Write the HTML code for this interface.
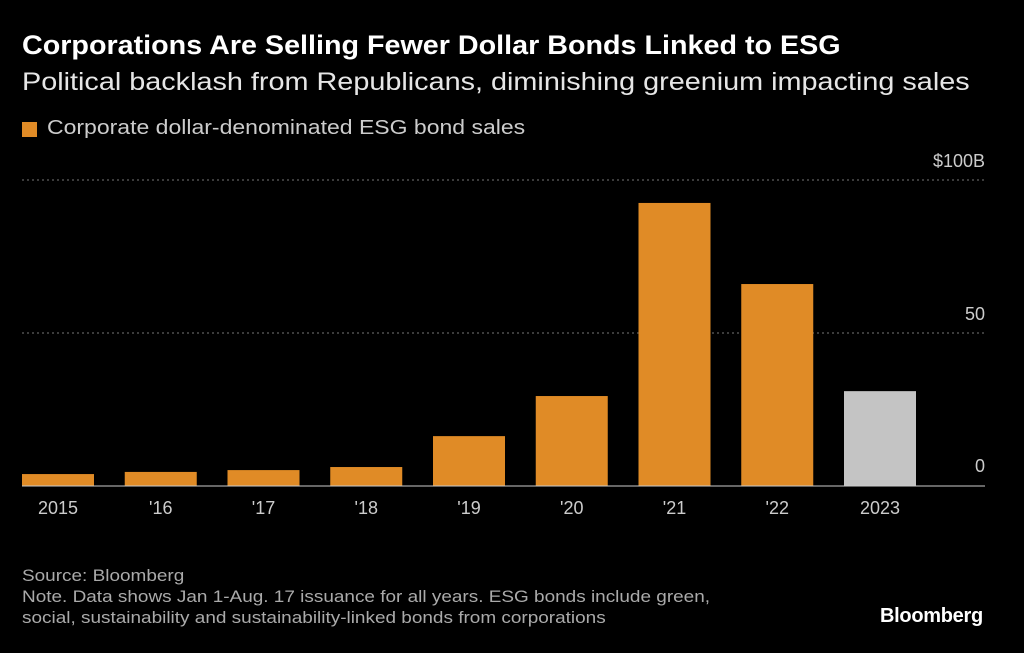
<!DOCTYPE html>
<html><head><meta charset="utf-8">
<style>
body{margin:0;background:#000;width:1024px;height:653px;overflow:hidden;font-family:"Liberation Sans",sans-serif;color:#fff;}
.t{position:absolute;white-space:nowrap;transform-origin:0 0;}
</style></head>
<body>
<div class="t" style="left:22px;top:30px;font-size:27px;font-weight:bold;transform:scaleX(1.063);">Corporations Are Selling Fewer Dollar Bonds Linked to ESG</div>
<div class="t" style="left:22px;top:68px;font-size:25px;color:#e6e6e6;transform:scaleX(1.152);">Political backlash from Republicans, diminishing greenium impacting sales</div>
<div style="position:absolute;left:22px;top:122px;width:15px;height:15px;background:#e08b26;"></div>
<div class="t" style="left:47px;top:117px;font-size:20px;color:#ccc;transform:scaleX(1.15);">Corporate dollar-denominated ESG bond sales</div>
<svg id="c" width="1024" height="653" style="position:absolute;left:0;top:0"></svg>
<div class="t" style="left:22px;top:565px;font-size:17px;line-height:21px;color:#aaa;transform:scaleX(1.115);">Source: Bloomberg<br>Note. Data shows Jan 1-Aug. 17 issuance for all years. ESG bonds include green,<br>social, sustainability and sustainability-linked bonds from corporations</div>
<div class="t" style="left:880px;top:605px;font-size:20px;font-weight:bold;letter-spacing:-0.3px;">Bloomberg</div>
<script>
const categories=["2015","'16","'17","'18","'19","'20","'21","'22","2023"];
const values=[3.9,4.6,5.2,6.2,16.3,29.4,92.5,66,31];
const tickValues=[0,50,100];
const tickLabels=["0","50","$100B"];
const svg=document.getElementById('c');
const NS='http://www.w3.org/2000/svg';
const y0=486,yTop=180,x0=22,step=102.75,bw=72;
function y(v){return y0-(v/100)*(y0-yTop);}
function x(i){return x0+i*step;}
function mk(t,a){const e=document.createElementNS(NS,t);for(const k in a)e.setAttribute(k,a[k]);svg.appendChild(e);return e;}
tickValues.forEach((v,i)=>{
 if(v>0){const g=mk('line',{x1:22,x2:985,y1:y(v),y2:y(v),stroke:'#777','stroke-dasharray':'2,3','stroke-width':1});
 
 }
 const t=mk('text',{x:985,y:v===0?y(v)-14:y(v)-13,'text-anchor':'end',fill:'#ccc','font-size':18,'font-family':'Liberation Sans, sans-serif'});
 t.textContent=tickLabels[i];
 
 
});
values.forEach((v,i)=>{
 const r=mk('rect',{x:x(i),y:y(v),width:bw,height:y0-y(v),fill:i===values.length-1?'#c4c4c4':'#e08b26'});
 
 
 const t=mk('text',{x:x(i)+bw/2,y:514,'text-anchor':'middle',fill:'#ccc','font-size':18,'font-family':'Liberation Sans, sans-serif'});
 t.textContent=categories[i];
 
 
});
const b=mk('line',{x1:22,x2:985,y1:y0,y2:y0,stroke:'#ccc','stroke-width':1});


</script>
</body></html>
